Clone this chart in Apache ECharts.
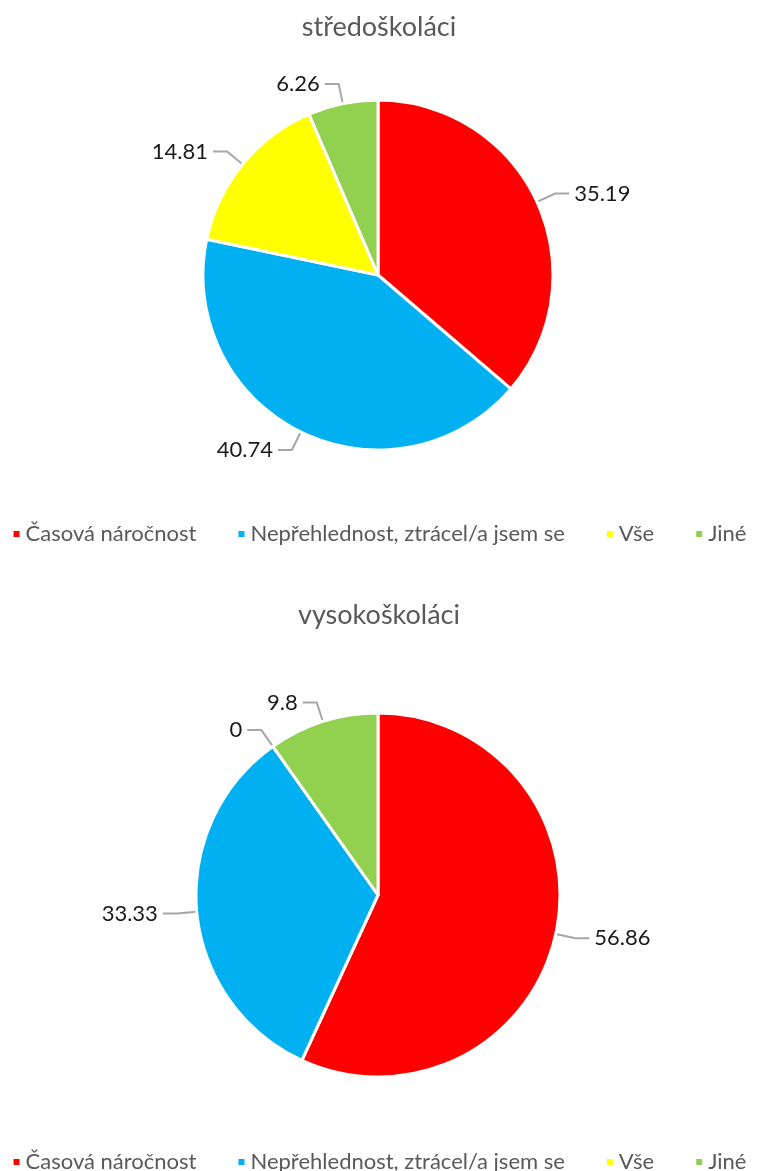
<!DOCTYPE html>
<html>
<head>
<meta charset="utf-8">
<script src="https://cdn.jsdelivr.net/npm/echarts@6/dist/echarts.min.js"></script>
<style>
  html, body { margin: 0; padding: 0; background: #fff; }
  #chart { width: 758px; height: 1171px; }
</style>
</head>
<body>
<div id="chart"></div>
<script>
const categories = ['Časová náročnost', 'Nepřehlednost, ztrácel/a jsem se', 'Vše', 'Jiné'];
const stredoskolaci = [35.19, 40.74, 14.81, 6.26];
const vysokoskolaci = [56.86, 33.33, 0, 9.8];
const colors = ['#FF0000', '#00B0F0', '#FFFF00', '#92D050'];
const font = 'Lato, "Open Sans", sans-serif';

const chart = echarts.init(document.getElementById('chart'));

function pieSeries(name, values, center, radius) {
  return {
    name: name,
    type: 'pie',
    center: center,
    radius: radius,
    startAngle: 90,
    clockwise: true,
    avoidLabelOverlap: false,
    emphasis: { disabled: true },
    itemStyle: { borderColor: '#fff', borderWidth: 3 },
    label: {
      show: true,
      position: 'outside',
      formatter: '{c}',
      color: '#1a1a1a',
      fontSize: 22,
      fontFamily: font
    },
    labelLine: {
      show: true,
      length: 20,
      length2: 14,
      lineStyle: { color: '#A6A6A6', width: 2 }
    },
    data: categories.map((c, i) => ({ name: c, value: values[i] }))
  };
}

function legend(top) {
  return {
    data: categories,
    top: top,
    left: 'center',
    icon: 'rect',
    itemWidth: 8,
    itemHeight: 8,
    itemGap: 40,
    textStyle: { color: '#595959', fontSize: 22, fontFamily: font }
  };
}

chart.setOption({
  color: colors,
  animation: false,
  title: [
    { text: 'středoškoláci', left: 'center', top: 9,
      textStyle: { color: '#595959', fontSize: 27, fontWeight: 'normal', fontFamily: font } },
    { text: 'vysokoškoláci', left: 'center', top: 597,
      textStyle: { color: '#595959', fontSize: 27, fontWeight: 'normal', fontFamily: font } }
  ],
  legend: [legend(518), legend(1146)],
  series: [
    pieSeries('středoškoláci', stredoskolaci, [378, 275], 175),
    pieSeries('vysokoškoláci', vysokoskolaci, [378, 895], 182)
  ]
});
</script>
</body>
</html>
